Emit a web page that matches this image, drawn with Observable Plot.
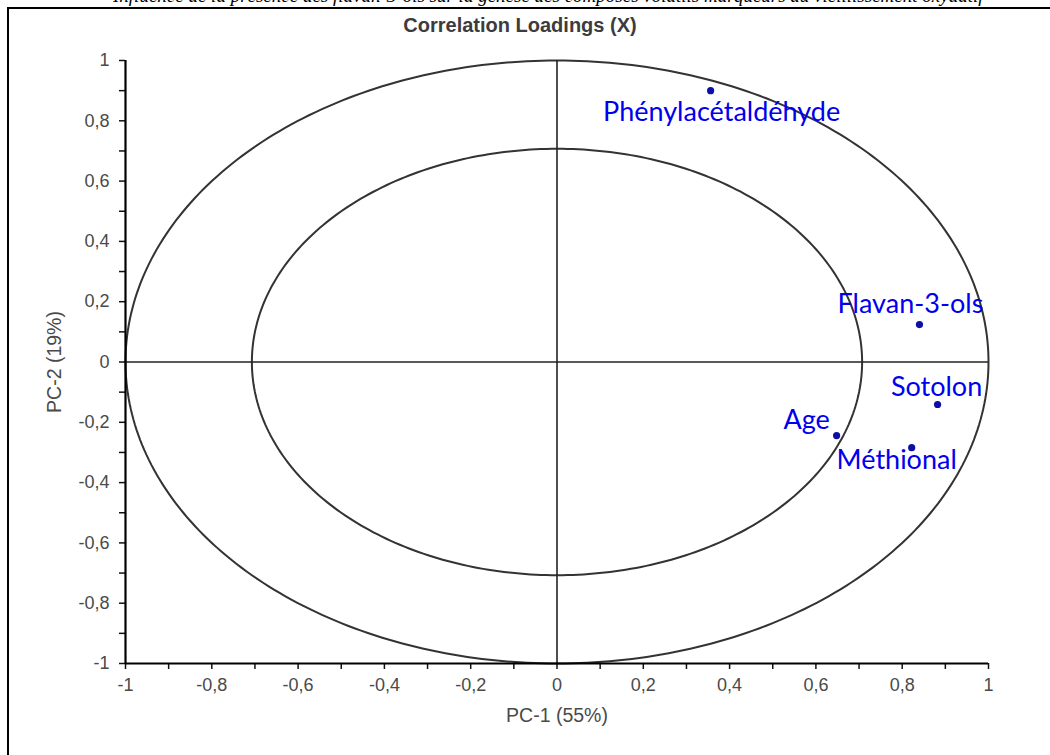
<!DOCTYPE html>
<html>
<head>
<meta charset="utf-8">
<script src="https://cdn.jsdelivr.net/npm/d3@7"></script>
<script src="https://cdn.jsdelivr.net/npm/@observablehq/plot@0.6"></script>
<style>
  html, body { margin: 0; padding: 0; background: #fff; }
  body { width: 1050px; height: 755px; overflow: hidden; position: relative; }
  #topline { position: absolute; left: 113px; top: -15px; font: italic 19px "Liberation Serif", serif; white-space: nowrap; color: #000; }
  #frame { position: absolute; left: 7px; top: 7px; width: 1100px; height: 900px; border-left: 2px solid #000; border-top: 2px solid #000; }
  #chart { position: absolute; left: 0; top: 0; }
  #title { position: absolute; left: 0; width: 1040px; top: 14px; text-align: center; font: bold 20px "Liberation Sans", Arial, sans-serif; color: #3c3c3c; }
  #chart svg g[aria-label$="axis label"] text { font-size: 19.5px; }
</style>
</head>
<body>
<div id="topline">Influence de la présence des flavan-3-ols sur la genèse des composés volatils marqueurs du vieillissement oxydatif</div>
<div id="frame"></div>
<div id="chart"></div>
<div id="title">Correlation Loadings (X)</div>
<script>
// Data
const names = ["Phénylacétaldéhyde", "Flavan-3-ols", "Sotolon", "Age", "Méthional"];
const pc1 = [0.356, 0.840, 0.882, 0.648, 0.822];
const pc2 = [0.900, 0.124, -0.141, -0.244, -0.284];
const tickValues = [-1, -0.9, -0.8, -0.7, -0.6, -0.5, -0.4, -0.3, -0.2, -0.1, 0, 0.1, 0.2, 0.3, 0.4, 0.5, 0.6, 0.7, 0.8, 0.9, 1];
const xLabel = "PC-1 (55%)";
const yLabel = "PC-2 (19%)";
const circleRadii = [1, Math.SQRT1_2];

const points = names.map((n, i) => ({name: n, x: pc1[i], y: pc2[i]}));

// label placement (style)
const labelOffsets = {
  "Phénylacétaldéhyde": [11, 22],
  "Flavan-3-ols": [-9, -20],
  "Sotolon": [-1, -17],
  "Age": [-30, -15],
  "Méthional": [-15, 13]
};

// circle geometry
const circles = circleRadii.flatMap((r, k) =>
  d3.range(0, 361, 1).map(a => ({k, x: r * Math.cos(a * Math.PI / 180), y: r * Math.sin(a * Math.PI / 180)}))
);

const fmt = d => {
  const v = Math.round(d * 10);
  if (v % 2 !== 0) return "";
  return String(v / 10).replace(".", ",");
};

const chart = Plot.plot({
  width: 1050,
  height: 755,
  marginLeft: 125,
  marginRight: 62,
  marginTop: 60,
  marginBottom: 92,
  style: {fontFamily: "'Liberation Sans', Arial, sans-serif", fontSize: "18px", color: "#444", background: "transparent"},
  x: {domain: [-1, 1]},
  y: {domain: [-1, 1]},
  marks: [
    Plot.line(circles, {x: "x", y: "y", z: "k", stroke: "#333", strokeWidth: 2}),
    Plot.ruleX([0], {y1: -1, y2: 1, stroke: "#222", strokeWidth: 1.6}),
    Plot.ruleY([0], {x1: -1, x2: 1, stroke: "#222", strokeWidth: 1.6}),
    Plot.axisX({ticks: tickValues, tickFormat: fmt, tickSize: 6, tickPadding: 9, stroke: "#111", strokeWidth: 1.5,
      fontSize: 18, label: xLabel, labelAnchor: "center", labelArrow: "none", labelOffset: 58, fill: "#4a4a4a"}),
    Plot.axisY({ticks: tickValues, tickFormat: fmt, tickSize: 6, tickPadding: 10, stroke: "#111", strokeWidth: 1.5,
      fontSize: 18, label: yLabel, labelAnchor: "center", labelArrow: "none", labelOffset: 78, fill: "#4a4a4a"}),
    Plot.ruleX([-1], {stroke: "#000", strokeWidth: 2.2}),
    Plot.ruleY([-1], {stroke: "#000", strokeWidth: 2.2}),
    Plot.dot(points, {x: "x", y: "y", r: 3.6, fill: "#0d0da8", stroke: "none"}),
    ...points.map(p => Plot.text([p], {
      x: "x", y: "y", text: "name",
      dx: labelOffsets[p.name][0], dy: labelOffsets[p.name][1],
      fill: "#0000ee", fontSize: 27, fontFamily: "Lato, 'Open Sans', sans-serif",
      textAnchor: "middle", lineAnchor: "middle"
    }))
  ]
});
// enforce tick label font size
chart.querySelectorAll("text").forEach(t => {
  if (/^-?\d/.test(t.textContent.trim())) {
    t.style.fontSize = "18px";
    t.style.fontFamily = "'Liberation Sans', Arial, sans-serif";
  }
});
document.getElementById("chart").appendChild(chart);
</script>
</body>
</html>
